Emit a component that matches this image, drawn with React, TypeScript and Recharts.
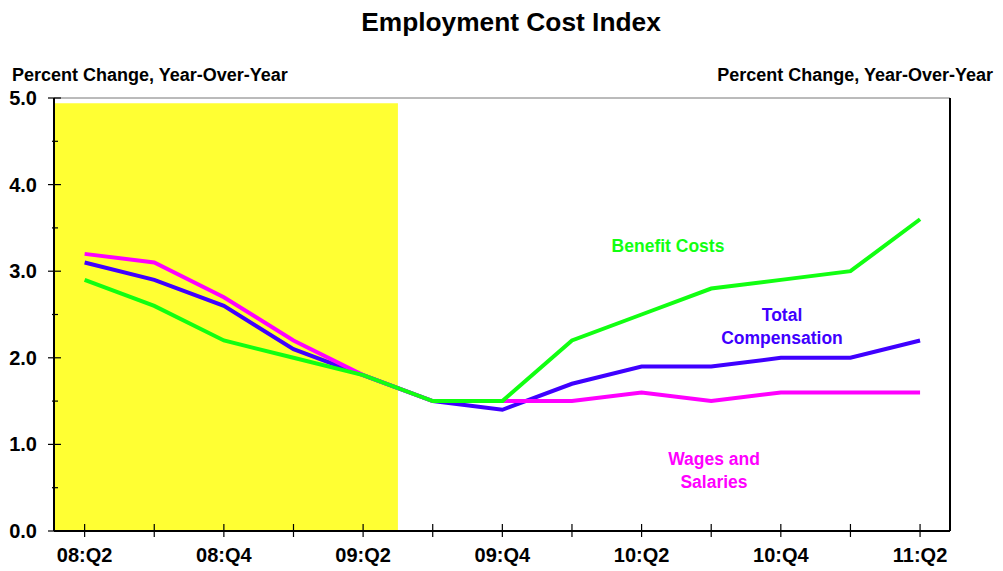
import React from 'react';
import { LineChart, Line, XAxis, YAxis, ReferenceArea, ReferenceLine } from 'recharts';

const quarters = ['08:Q2', '08:Q3', '08:Q4', '09:Q1', '09:Q2', '09:Q3', '09:Q4', '10:Q1', '10:Q2', '10:Q3', '10:Q4', '11:Q1', '11:Q2'];
const benefitCosts = [2.9, 2.6, 2.2, 2.0, 1.8, 1.5, 1.5, 2.2, 2.5, 2.8, 2.9, 3.0, 3.6];
const totalComp = [3.1, 2.9, 2.6, 2.1, 1.8, 1.5, 1.4, 1.7, 1.9, 1.9, 2.0, 2.0, 2.2];
const wagesSalaries = [3.2, 3.1, 2.7, 2.2, 1.8, 1.5, 1.5, 1.5, 1.6, 1.5, 1.6, 1.6, 1.6];
const yTicks = [0, 0.5, 1, 1.5, 2, 2.5, 3, 3.5, 4, 4.5, 5];
const xTicks = [0, 1, 2, 3, 4, 5, 6, 7, 8, 9, 10, 11, 12];

const FONT = '"Liberation Sans", Arial, sans-serif';

const data = quarters.map((q, i) => ({
  idx: i,
  quarter: q,
  benefit: benefitCosts[i],
  total: totalComp[i],
  wages: wagesSalaries[i],
}));

const XTick = ({ x, y, payload }: any) => {
  const i = payload.value;
  return (
    <g>
      <line x1={x} x2={x} y1={y - 7} y2={y + 6} stroke="#000" strokeWidth={1.2} />
      {i % 2 === 0 && (
        <text x={x} y={y + 31} textAnchor="middle" fontFamily={FONT} fontWeight="bold" fontSize={20} fill="#000">
          {quarters[i]}
        </text>
      )}
    </g>
  );
};

const YTick = ({ x, y, payload, side }: any) => {
  const v = payload.value;
  const major = Number.isInteger(v);
  const left = side === 'left';
  return (
    <g>
      {major ? (
        <line x1={x - 6} x2={x + 7} y1={y} y2={y} stroke="#000" strokeWidth={1.2} />
      ) : (
        <line x1={left ? x - 2 : x - 3} x2={left ? x + 4 : x + 2} y1={y} y2={y} stroke="#000" strokeWidth={1.2} />
      )}
      {major && (
        <text
          x={left ? x - 17 : x + 18}
          y={y + 7}
          textAnchor={left ? 'end' : 'start'}
          fontFamily={FONT}
          fontWeight="bold"
          fontSize={20}
          fill="#000"
        >
          {v.toFixed(1)}
        </text>
      )}
    </g>
  );
};

const label = (cx: number, cy: number, color: string, size = 17.5): React.CSSProperties => ({
  position: 'absolute',
  left: cx,
  top: cy,
  transform: 'translate(-50%, -50%)',
  whiteSpace: 'nowrap',
  fontFamily: FONT,
  fontWeight: 'bold',
  fontSize: size,
  color,
  lineHeight: 1,
});

export default function App() {
  return (
    <div style={{ position: 'absolute', left: 0, top: 0, width: 1003, height: 571, background: '#fff' }}>
      <LineChart width={1003} height={571} data={data} margin={{ top: 98, right: 0, bottom: 0, left: 0 }}>
        <XAxis
          dataKey="idx"
          type="number"
          domain={[-0.44, 12.43]}
          allowDataOverflow
          ticks={xTicks}
          interval={0}
          height={40}
          tickSize={0}
          tickMargin={0}
          tickLine={false}
          axisLine={{ stroke: '#000', strokeWidth: 2 }}
          tick={<XTick />}
        />
        <YAxis
          yAxisId="left"
          orientation="left"
          domain={[0, 5]}
          ticks={yTicks}
          interval={0}
          width={54}
          tickSize={0}
          tickMargin={0}
          tickLine={false}
          axisLine={{ stroke: '#000', strokeWidth: 2 }}
          tick={<YTick side="left" />}
        />
        <YAxis
          yAxisId="right"
          orientation="right"
          domain={[0, 5]}
          ticks={yTicks}
          interval={0}
          width={53}
          tickSize={0}
          tickMargin={0}
          tickLine={false}
          axisLine={{ stroke: '#000', strokeWidth: 2 }}
          tick={<YTick side="right" />}
        />
        <ReferenceArea
          yAxisId="left"
          x1={-0.43}
          x2={4.5}
          y1={0}
          y2={4.94}
          fill="#FFFF33"
          fillOpacity={1}
          stroke="none"
          ifOverflow="visible"
        />
        <ReferenceLine yAxisId="left" y={5} stroke="#777" strokeWidth={1} />
        <Line yAxisId="left" type="linear" dataKey="total" stroke="#3F00FF" strokeWidth={4} dot={false} isAnimationActive={false} />
        <Line yAxisId="left" type="linear" dataKey="wages" stroke="#FF00FF" strokeWidth={4} dot={false} isAnimationActive={false} />
        <Line yAxisId="left" type="linear" dataKey="benefit" stroke="#11FF11" strokeWidth={4} dot={false} isAnimationActive={false} />
      </LineChart>

      <div style={label(511, 22, '#000', 26.3)}>Employment Cost Index</div>
      <div style={{ ...label(0, 75, '#000', 18), left: 12, transform: 'translate(0, -50%)' }}>
        Percent Change, Year-Over-Year
      </div>
      <div style={{ ...label(0, 75, '#000', 18), left: 'auto', right: 10, transform: 'translate(0, -50%)' }}>
        Percent Change, Year-Over-Year
      </div>

      <div style={label(668, 247, '#11FF11')}>Benefit Costs</div>
      <div style={label(782, 316, '#3F00FF')}>Total</div>
      <div style={label(782, 339, '#3F00FF')}>Compensation</div>
      <div style={label(714, 460, '#FF00FF')}>Wages and</div>
      <div style={label(714, 483, '#FF00FF')}>Salaries</div>
    </div>
  );
}
